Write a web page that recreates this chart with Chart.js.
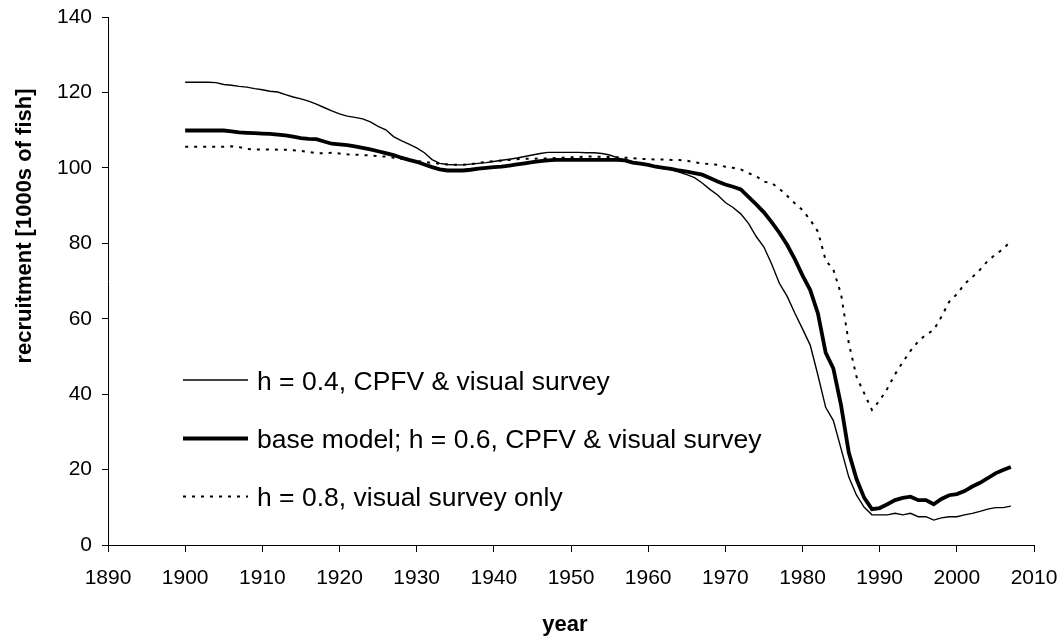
<!DOCTYPE html>
<html>
<head>
<meta charset="utf-8">
<script src="https://cdn.jsdelivr.net/npm/chart.js@4.4.1/dist/chart.umd.min.js"></script>
<style>
  html, body { margin: 0; padding: 0; background: #ffffff; }
  #wrap { width: 1062px; height: 644px; }
</style>
</head>
<body>
<div id="wrap"><canvas id="c" width="1062" height="644"></canvas></div>
<script>
const years = [
  1900,1901,1902,1903,1904,1905,1906,1907,1908,1909,
  1910,1911,1912,1913,1914,1915,1916,1917,1918,1919,
  1920,1921,1922,1923,1924,1925,1926,1927,1928,1929,
  1930,1931,1932,1933,1934,1935,1936,1937,1938,1939,
  1940,1941,1942,1943,1944,1945,1946,1947,1948,1949,
  1950,1951,1952,1953,1954,1955,1956,1957,1958,1959,
  1960,1961,1962,1963,1964,1965,1966,1967,1968,1969,
  1970,1971,1972,1973,1974,1975,1976,1977,1978,1979,
  1980,1981,1982,1983,1984,1985,1986,1987,1988,1989,
  1990,1991,1992,1993,1994,1995,1996,1997,1998,1999,
  2000,2001,2002,2003,2004,2005,2006,2007
];

const seriesNames = [
  "h = 0.4, CPFV & visual survey",
  "base model; h = 0.6, CPFV & visual survey",
  "h = 0.8, visual survey only"
];

const h04 = [
  122.7,122.7,122.7,122.7,122.6,122.1,121.9,121.6,121.4,121.0,
  120.7,120.3,120.1,119.4,118.8,118.3,117.7,116.9,116.0,115.1,
  114.3,113.7,113.4,113.0,112.2,111.0,110.1,108.3,107.2,106.3,
  105.3,104.0,102.2,101.2,100.9,100.8,100.8,101.0,101.2,101.4,
  101.7,102.0,102.3,102.6,103.0,103.4,103.8,104.1,104.1,104.1,
  104.1,104.1,104.0,104.0,103.8,103.4,102.7,102.0,101.4,101.1,
  100.9,100.4,99.9,99.5,98.9,98.2,97.4,96.0,94.3,92.8,
  90.8,89.5,87.8,85.3,81.8,79.0,74.5,69.4,66.0,61.5,
  57.3,53.0,45.0,36.5,33.0,25.5,18.0,13.2,10.0,8.0,
  8.0,8.0,8.4,8.0,8.4,7.5,7.5,6.6,7.2,7.5,
  7.5,8.0,8.4,8.9,9.5,9.9,9.9,10.3
];

const base06 = [
  109.9,109.9,109.9,109.9,109.9,109.9,109.7,109.4,109.3,109.2,
  109.1,109.0,108.8,108.6,108.3,107.9,107.7,107.6,107.0,106.4,
  106.2,106.0,105.7,105.3,104.9,104.4,103.9,103.4,102.7,102.1,
  101.6,100.9,100.2,99.6,99.3,99.3,99.3,99.5,99.8,100.0,
  100.2,100.3,100.6,100.9,101.2,101.5,101.8,102.0,102.1,102.1,
  102.1,102.1,102.1,102.1,102.1,102.1,102.1,102.0,101.4,101.1,
  100.8,100.3,100.0,99.7,99.3,99.0,98.6,98.2,97.3,96.4,
  95.6,95.0,94.3,92.3,90.3,88.2,85.6,82.8,79.6,75.8,
  71.5,67.6,61.4,51.0,46.8,37.0,24.5,17.5,12.5,9.5,
  9.8,10.8,11.9,12.5,12.8,11.9,11.9,10.8,12.2,13.2,
  13.5,14.3,15.5,16.5,17.7,19.0,19.9,20.7
];

const h08 = [
  105.6,105.6,105.6,105.6,105.6,105.6,105.7,105.5,105.0,104.9,
  104.9,104.9,104.8,104.8,104.7,104.5,104.2,103.9,103.9,104.0,
  103.8,103.6,103.5,103.4,103.3,103.1,103.0,102.7,102.4,102.1,
  101.8,101.6,101.3,101.1,100.9,100.8,100.8,101.0,101.3,101.6,
  101.8,101.9,102.1,102.3,102.4,102.4,102.5,102.5,102.6,102.7,
  102.8,102.9,103.0,103.0,102.9,102.9,102.8,102.7,102.6,102.4,
  102.3,102.2,102.2,102.1,102.1,101.9,101.5,101.2,101.0,100.8,
  100.3,100.0,99.6,98.6,97.8,96.3,96.0,94.5,92.6,90.6,
  88.8,86.2,83.1,75.5,73.0,66.5,53.5,44.6,40.2,35.8,
  38.3,41.5,45.3,48.5,51.5,54.0,55.8,57.0,60.5,64.5,
  66.5,69.2,71.0,73.0,75.3,77.0,78.5,80.6
];

const xTickValues = [1890,1900,1910,1920,1930,1940,1950,1960,1970,1980,1990,2000,2010];
const yTickValues = [0,20,40,60,80,100,120,140];
const xTitle = "year";
const yTitle = "recruitment [1000s of fish]";

const FONT = "'Liberation Sans', Arial, Helvetica, sans-serif";

function toPoints(vals) {
  return years.map((yr, i) => ({ x: yr, y: vals[i] }));
}

const titlesAndLegend = {
  id: 'titlesAndLegend',
  afterDraw(chart) {
    const ctx = chart.ctx;
    ctx.save();
    ctx.fillStyle = '#000';
    // axis titles
    ctx.font = 'bold 22px ' + FONT;
    ctx.textAlign = 'center';
    ctx.textBaseline = 'alphabetic';
    ctx.fillText(xTitle, 565, 631);
    ctx.save();
    ctx.translate(31, 226);
    ctx.rotate(-Math.PI / 2);
    ctx.fillText(yTitle, 0, 0);
    ctx.restore();
    // legend
    const rows = [380, 438.5, 496.5];
    ctx.font = '26.5px ' + FONT;
    ctx.textAlign = 'left';
    chart.data.datasets.forEach((ds, i) => {
      const y = rows[i];
      ctx.beginPath();
      ctx.strokeStyle = ds.borderColor;
      ctx.lineWidth = ds.borderWidth;
      ctx.setLineDash(ds.borderDash || []);
      ctx.moveTo(183, y);
      ctx.lineTo(248, y);
      ctx.stroke();
      ctx.setLineDash([]);
      ctx.fillText(ds.label, 257, y + 9.5);
    });
    ctx.restore();
  }
};

new Chart(document.getElementById('c'), {
  type: 'line',
  data: {
    datasets: [
      { label: seriesNames[0], data: toPoints(h04), borderColor: '#000', borderWidth: 1.4, pointRadius: 0, tension: 0, fill: false },
      { label: seriesNames[1], data: toPoints(base06), borderColor: '#000', borderWidth: 3.8, pointRadius: 0, tension: 0, fill: false },
      { label: seriesNames[2], data: toPoints(h08), borderColor: '#000', borderWidth: 2, borderDash: [3, 6], pointRadius: 0, tension: 0, fill: false }
    ]
  },
  options: {
    responsive: false,
    devicePixelRatio: 1,
    animation: false,
    layout: { padding: { top: 17, right: 28, left: 0, bottom: 0 } },
    plugins: { legend: { display: false }, tooltip: { enabled: false } },
    scales: {
      x: {
        type: 'linear',
        min: 1890, max: 2010,
        afterBuildTicks: s => { s.ticks = xTickValues.map(v => ({ value: v })); },
        afterFit: s => { s.height = 99; s.paddingLeft = 0; s.paddingRight = 0; },
        ticks: {
          color: '#000', font: { family: FONT, size: 21 }, padding: 14,
          maxRotation: 0, autoSkip: false, callback: v => String(v)
        },
        grid: { drawOnChartArea: false, drawTicks: true, tickLength: 7, color: '#000', lineWidth: 1 },
        border: { color: '#000', width: 1 }
      },
      y: {
        type: 'linear',
        min: 0, max: 140,
        afterBuildTicks: s => { s.ticks = yTickValues.map(v => ({ value: v })); },
        afterFit: s => { s.width = 108; s.paddingTop = 0; s.paddingBottom = 0; },
        ticks: { color: '#000', font: { family: FONT, size: 21 }, padding: 10, callback: v => String(v) },
        grid: { drawOnChartArea: false, drawTicks: true, tickLength: 6, color: '#000', lineWidth: 1 },
        border: { color: '#000', width: 1 }
      }
    }
  },
  plugins: [titlesAndLegend]
});
</script>
</body>
</html>
